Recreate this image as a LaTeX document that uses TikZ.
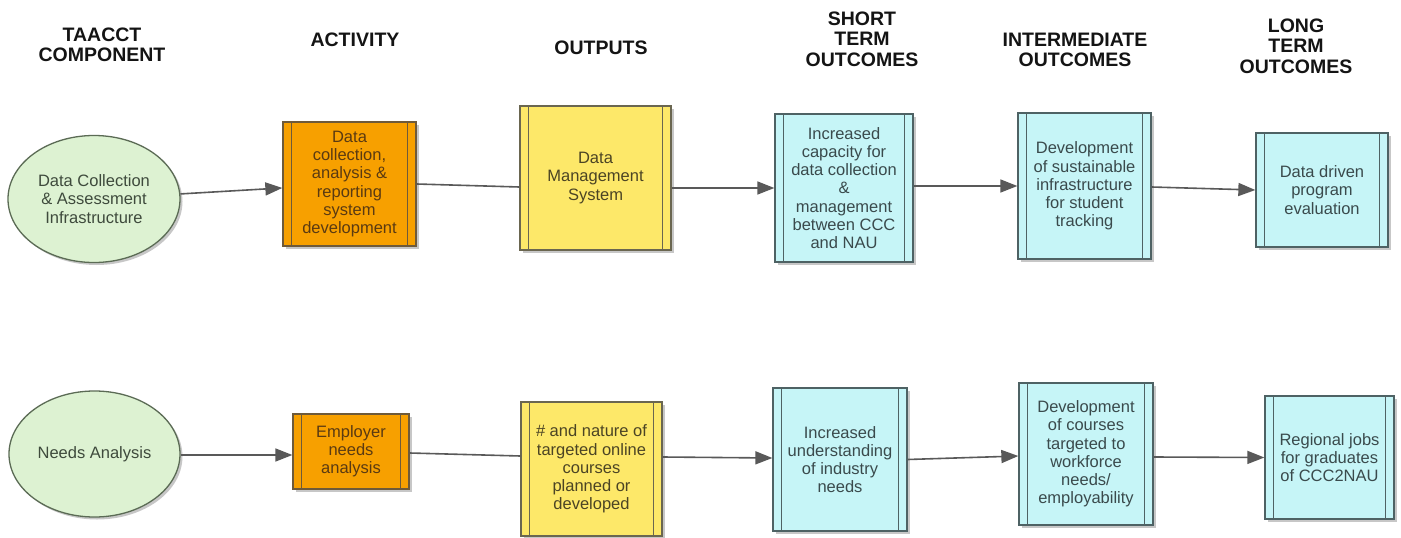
\documentclass[tikz,border=0pt]{standalone}
\usepackage{fontspec}
\setmainfont{Liberation Sans}
\usetikzlibrary{arrows.meta,shapes.geometric,shadows,calc}

\definecolor{ovalfill}{HTML}{DDF2D2}
\definecolor{ovaldraw}{HTML}{5B6B55}
\definecolor{ovaltext}{HTML}{3E4A3C}
\definecolor{actfill}{HTML}{F7A000}
\definecolor{actdraw}{HTML}{6E5A3A}
\definecolor{acttext}{HTML}{5A3A12}
\definecolor{outfill}{HTML}{FDE869}
\definecolor{outdraw}{HTML}{6A6650}
\definecolor{outtext}{HTML}{4B4424}
\definecolor{resfill}{HTML}{C6F5F7}
\definecolor{resdraw}{HTML}{4E6264}
\definecolor{restext}{HTML}{3A4A4C}
\definecolor{linkcol}{HTML}{595959}
\definecolor{headtext}{HTML}{141414}

\tikzset{
  x=1pt, y=-1pt,
  header/.style={font=\bfseries\fontsize{19.5}{20.7}\selectfont, align=center,
    text=headtext, inner sep=0pt},
  bodyfont/.style={font=\fontsize{16.5}{18.2}\selectfont, align=center},
  softshadow/.style={drop shadow={shadow xshift=2.5pt, shadow yshift=-2.5pt,
    fill=black, opacity=0.22}},
  oval/.style={ellipse, bodyfont, draw=ovaldraw, fill=ovalfill, text=ovaltext,
    line width=1.3pt, inner sep=0pt, softshadow},
  stripes/.style={path picture={
    \draw[line width=1.1pt, draw=#1]
      ([xshift=8.5pt]path picture bounding box.north west) --
      ([xshift=8.5pt]path picture bounding box.south west);
    \draw[line width=1.1pt, draw=#1]
      ([xshift=-8.5pt]path picture bounding box.north east) --
      ([xshift=-8.5pt]path picture bounding box.south east);}},
  procbox/.style={rectangle, bodyfont, line width=1.3pt, inner sep=0pt, softshadow},
  actbox/.style={procbox, fill=actfill, draw=actdraw, text=acttext, stripes=actdraw},
  outbox/.style={procbox, fill=outfill, draw=outdraw, text=outtext, stripes=outdraw},
  resbox/.style={procbox, fill=resfill, draw=resdraw, text=restext, stripes=resdraw},
  link/.style={draw=linkcol, line width=1.6pt,
    -{Triangle[length=17pt,width=13pt]}},
  plainlink/.style={draw=linkcol, line width=1.6pt},
}

\begin{document}
\begin{tikzpicture}
\fill[white] (0,0) rectangle (1401,538);
\useasboundingbox (0,0) rectangle (1401,538);

% column headings
\node[header] (h1) at (102,44.9) {TAACCT\\COMPONENT};
\node[header] (h2) at (355,39.6) {ACTIVITY};
\node[header] (h3) at (601,47.8) {OUTPUTS};
\node[header] (h4) at (862,39) {SHORT\\TERM\\OUTCOMES};
\node[header] (h5) at (1075,49.9) {INTERMEDIATE\\OUTCOMES};
\node[header] (h6) at (1296,46) {LONG\\TERM\\OUTCOMES};

% first chain: data collection
\node[oval, minimum width=172pt, minimum height=127pt] (e1) at (94,199)
  {Data Collection\\\& Assessment\\Infrastructure};
\node[actbox, minimum width=133pt, minimum height=124pt] (o1) at (349.5,184)
  {Data\\collection,\\analysis \&\\reporting\\system\\development};
\node[outbox, minimum width=151pt, minimum height=144pt] (y1) at (595.5,178)
  {Data\\Management\\System};
\node[resbox, minimum width=138pt, minimum height=148pt] (c1) at (844,188)
  {Increased\\capacity for\\data collection\\\&\\management\\between CCC\\and NAU};
\node[resbox, minimum width=133pt, minimum height=146pt] (c2) at (1084.5,186)
  {Development\\of sustainable\\infrastructure\\for student\\tracking};
\node[resbox, minimum width=132pt, minimum height=114pt] (c3) at (1322,190)
  {Data driven\\program\\evaluation};

% second chain: needs analysis
\node[oval, minimum width=171pt, minimum height=126pt] (e2) at (94.5,454)
  {Needs Analysis};
\node[actbox, minimum width=116pt, minimum height=75pt] (o2) at (351,451.5)
  {Employer\\needs\\analysis};
\node[outbox, minimum width=141pt, minimum height=134pt] (y2) at (591.5,469)
  {\# and nature of\\targeted online\\courses\\planned or\\developed};
\node[resbox, minimum width=134pt, minimum height=143pt] (c4) at (840,459.5)
  {Increased\\understanding\\of industry\\needs};
\node[resbox, minimum width=134pt, minimum height=142pt] (c5) at (1086,454)
  {Development\\of courses\\targeted to\\workforce\\needs/\\employability};
\node[resbox, minimum width=129pt, minimum height=123pt] (c6) at (1329.5,457.5)
  {Regional jobs\\for graduates\\of CCC2NAU};

% connectors, first chain
\draw[link] (e1) -- (o1);
\draw[plainlink] (o1.east) -- ($(y1.west)+(0,9)$);
\draw[link] ($(y1.east)+(0,10)$) -- (c1.west);
\draw[link] ($(c1.east)+(0,-2)$) -- (c2.west);
\draw[link] ($(c2.east)+(0,1)$) -- (c3.west);

% connectors, second chain
\draw[link] ($(e2.east)+(0,1)$) -- ($(o2.west)+(0,3.5)$);
\draw[plainlink] ($(o2.east)+(0,1.5)$) -- ($(y2.west)+(0,-13)$);
\draw[link] ($(y2.east)+(0,-12)$) -- ($(c4.west)+(0,-1.5)$);
\draw[link] (c4.east) -- ($(c5.west)+(0,2)$);
\draw[link] ($(c5.east)+(0,3)$) -- (c6.west);
\end{tikzpicture}
\end{document}
